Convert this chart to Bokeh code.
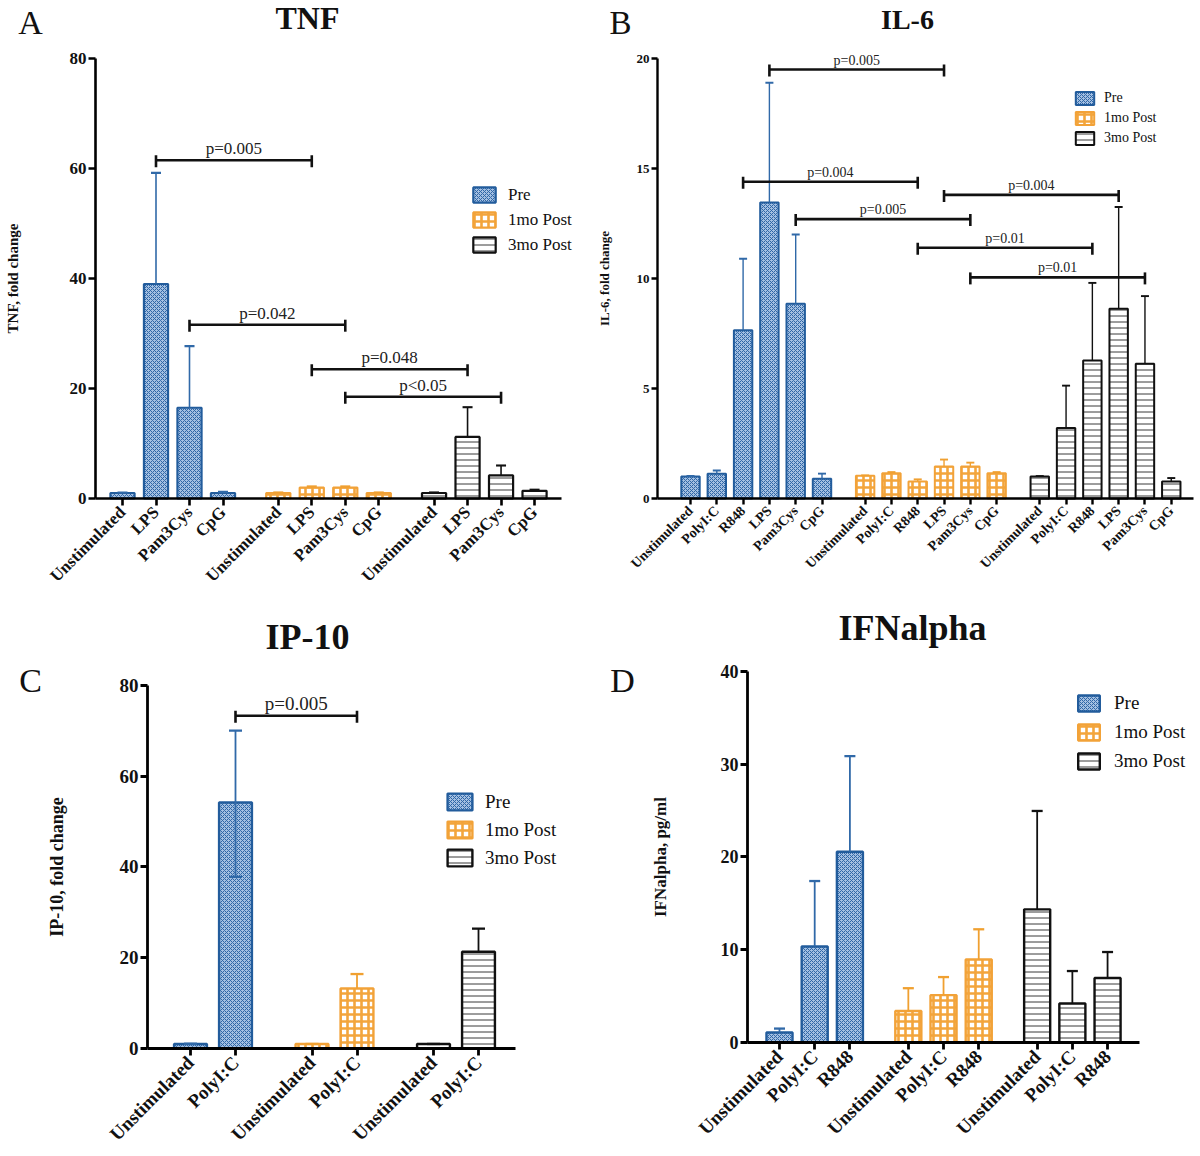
import math
from bokeh.plotting import figure
from bokeh.models import FixedTicker, Label, Range1d
from bokeh.layouts import row, column
from bokeh.embed import file_html
from bokeh.resources import INLINE

SERIF = "Liberation Serif"
series_names = ["Pre", "1mo Post", "3mo Post"]

# ---------------- TNF ----------------
tnf_stimuli = ["Unstimulated", "LPS", "Pam3Cys", "CpG"]
tnf_pre = [1.0, 39.0, 16.5, 1.0]
tnf_pre_err = [1.1, 59.2, 27.7, 1.2]
tnf_1mo = [1.0, 2.0, 2.0, 1.0]
tnf_1mo_err = [1.1, 2.2, 2.2, 1.1]
tnf_3mo = [1.0, 11.2, 4.2, 1.4]
tnf_3mo_err = [1.1, 16.6, 6.0, 1.6]
tnf_brackets = [((0, 1), (1, 1), 61.5, "p=0.005"),
                ((0, 2), (1, 2), 31.6, "p=0.042"),
                ((1, 1), (2, 1), 23.5, "p=0.048"),
                ((1, 2), (2, 2), 18.5, "p<0.05")]

# ---------------- IL-6 ----------------
il6_stimuli = ["Unstimulated", "PolyI:C", "R848", "LPS", "Pam3Cys", "CpG"]
il6_pre = [1.0, 1.12, 7.65, 13.45, 8.85, 0.9]
il6_pre_err = [1.02, 1.27, 10.9, 18.9, 12.0, 1.13]
il6_1mo = [1.03, 1.15, 0.77, 1.45, 1.45, 1.15]
il6_1mo_err = [1.05, 1.2, 0.87, 1.77, 1.63, 1.2]
il6_3mo = [1.0, 3.2, 6.27, 8.62, 6.13, 0.77]
il6_3mo_err = [1.02, 5.13, 9.8, 13.25, 9.2, 0.93]
il6_brackets = [((0, 3), (1, 3), 19.5, "p=0.005"),
                ((0, 2), (1, 2), 14.4, "p=0.004"),
                ((1, 3), (2, 3), 13.8, "p=0.004"),
                ((0, 4), (1, 4), 12.7, "p=0.005"),
                ((1, 2), (2, 2), 11.4, "p=0.01"),
                ((1, 4), (2, 4), 10.05, "p=0.01")]

# ---------------- IP-10 ----------------
ip10_stimuli = ["Unstimulated", "PolyI:C"]
ip10_pre = [1.0, 54.2]
ip10_pre_err = [1.0, 70.0]
ip10_pre_err_low = [1.0, 37.8]
ip10_1mo = [1.0, 13.2]
ip10_1mo_err = [1.0, 16.4]
ip10_3mo = [1.0, 21.3]
ip10_3mo_err = [1.0, 26.4]
ip10_brackets = [((0, 1), (1, 1), 73.3, "p=0.005")]

# ---------------- IFNalpha ----------------
ifn_stimuli = ["Unstimulated", "PolyI:C", "R848"]
ifn_pre = [1.08, 10.35, 20.55]
ifn_pre_err = [1.5, 17.4, 30.85]
ifn_1mo = [3.4, 5.1, 8.95]
ifn_1mo_err = [5.85, 7.05, 12.2]
ifn_3mo = [14.35, 4.2, 6.95]
ifn_3mo_err = [24.95, 7.7, 9.75]

STYLE = {
    "Pre": dict(fill_color="#a4c0e2", hatch_pattern="diagonal_cross", hatch_color="#2f66a6",
                hatch_scale=4, hatch_weight=1, line_color="#225c9c"),
    "1mo Post": dict(fill_color="white", hatch_pattern="cross", hatch_color="#f3a53c",
                     hatch_scale=7, hatch_weight=2.6, line_color="#f2a238"),
    "3mo Post": dict(fill_color="white", hatch_pattern="horizontal_line", hatch_color="#3a3a3a",
                     hatch_scale=6, hatch_weight=1, line_color="#111111"),
}
ERR_COLOR = {"Pre": "#3069a8", "1mo Post": "#f0a030", "3mo Post": "#111111"}


def build(cfg, stimuli, groups, errs, brackets, lows=None):
    fx, fy, w, h = cfg["box"]
    x0, pxu, y0, pyu = cfg["map"]

    def dx(px):
        return (px - x0) / pxu

    def dy(py):
        return (y0 - py) / pyu

    p = figure(width=w, height=h, x_range=Range1d(dx(fx), dx(fx + w)),
               y_range=Range1d(dy(fy + h), dy(fy)), output_backend="svg",
               toolbar_location=None, min_border=0)
    p.title.visible = False
    p.outline_line_color = None
    p.xgrid.visible = False
    p.ygrid.visible = False
    p.background_fill_color = "white"
    p.border_fill_color = "white"

    step = cfg["step"]
    n = len(stimuli)
    xs_all, lab_all = [], []
    for g, name in enumerate(series_names):
        xs = [round(g * step + i, 3) for i in range(n)]
        xs_all += xs
        lab_all += stimuli
        p.vbar(x=xs, top=groups[g], width=cfg["bw"], bottom=0, line_width=cfg["blw"],
               legend_label=name, **STYLE[name])
    for g, name in enumerate(series_names):
        xs = [round(g * step + i, 3) for i in range(n)]
        lo = groups[g] if (lows is None or lows[g] is None) else lows[g]
        p.segment(x0=xs, y0=lo, x1=xs, y1=errs[g], line_color=ERR_COLOR[name],
                  line_width=cfg["elw"])
        p.scatter(x=xs, y=errs[g], marker="dash", size=cfg["cap"], line_color=ERR_COLOR[name],
                  line_width=cfg["elw"] + 0.5)
        if lows is not None and lows[g] is not None:
            p.scatter(x=xs, y=lows[g], marker="dash", size=cfg["cap"],
                      line_color=ERR_COLOR[name], line_width=cfg["elw"] + 0.5)

    # significance brackets
    for (a, b, yv, txt) in brackets:
        xa = round(a[0] * step + a[1], 3)
        xb = round(b[0] * step + b[1], 3)
        p.segment(x0=[xa], y0=[yv], x1=[xb], y1=[yv], line_color="#111111", line_width=2.6)
        p.segment(x0=[xa, xb], y0=[yv - 7 / pyu] * 2, x1=[xa, xb], y1=[yv + 5 / pyu] * 2,
                  line_color="#111111", line_width=2.6)
        p.add_layout(Label(x=(xa + xb) / 2, y=yv, text=txt, text_align="center",
                           text_baseline="bottom", y_offset=2, text_font=SERIF,
                           text_font_size=cfg["pfs"], text_color="#222222"))

    # axes (fixed at the data origin, limited by bounds)
    for ax in (p.xaxis[0], p.yaxis[0]):
        ax.axis_line_width = cfg["alw"]
        ax.axis_line_color = "black"
        ax.major_tick_line_width = cfg["alw"]
        ax.major_tick_line_color = "black"
        ax.major_tick_in = 0
        ax.major_tick_out = cfg["tick"]
        ax.minor_tick_line_color = None
        ax.major_label_text_font = SERIF
        ax.major_label_text_font_style = "bold"
        ax.major_label_text_color = "#111111"
    yt = cfg["yticks"]
    p.yaxis.ticker = FixedTicker(ticks=yt)
    p.yaxis.bounds = (yt[0], yt[-1])
    p.yaxis.fixed_location = dx(cfg["axis_x"][0])
    p.yaxis.major_label_text_font_size = cfg["yfs"]
    p.yaxis.major_label_standoff = 2
    p.yaxis.axis_label = cfg["ylabel"]
    p.yaxis.axis_label_text_font = SERIF
    p.yaxis.axis_label_text_font_style = "bold"
    p.yaxis.axis_label_text_font_size = cfg["ylfs"]
    p.yaxis.axis_label_standoff = cfg["yls"]
    p.yaxis.axis_label_text_color = "#111111"

    p.xaxis.ticker = FixedTicker(ticks=xs_all)
    p.xaxis.major_label_overrides = {x: l for x, l in zip(xs_all, lab_all)}
    p.xaxis.bounds = (dx(cfg["axis_x"][0]), dx(cfg["axis_x"][1]))
    p.xaxis.fixed_location = 0
    p.xaxis.major_label_orientation = math.pi / 4
    p.xaxis.major_label_text_font_size = cfg["xfs"]
    p.xaxis.major_label_standoff = 4

    # title and panel letter
    tx, ty = cfg["title_px"]
    p.add_layout(Label(x=dx(tx), y=dy(ty), text=cfg["title"], text_align="center",
                       text_baseline="middle", text_font=SERIF, text_font_style="bold",
                       text_font_size=cfg["tfs"], text_color="#111111"))
    lx, ly = cfg["letter_px"]
    p.add_layout(Label(x=dx(lx), y=dy(ly), text=cfg["letter"], text_align="center",
                       text_baseline="middle", text_font=SERIF,
                       text_font_size=cfg["lfs"], text_color="#111111"))

    # legend
    gl, gt = cfg["leg_px"]
    gw, gh = cfg["leg_g"]
    sp = cfg["leg_sp"]
    bottom_px = gt + 3 * gh + 2 * sp
    lg = p.legend[0]
    lg.location = (gl - fx, fy + h - bottom_px)
    lg.margin = 0
    lg.padding = 0
    lg.border_line_color = None
    lg.background_fill_alpha = 0
    lg.glyph_width = gw
    lg.glyph_height = gh
    lg.label_height = gh
    lg.spacing = sp
    lg.label_standoff = cfg["leg_so"]
    lg.label_text_font = SERIF
    lg.label_text_font_size = cfg["leg_fs"]
    lg.label_text_color = "#111111"
    lg.label_text_baseline = "middle"
    return p


cfg_a = dict(box=(0, 0, 593, 590), map=(122, 33.5, 498, 5.5), axis_x=(95, 561), step=4.65,
             bw=0.72, blw=2.2, elw=1.6, cap=10, pfs="17px", alw=2.6, tick=7,
             yticks=[0, 20, 40, 60, 80], yfs="17px", ylabel="TNF, fold change", ylfs="15px",
             yls=46, xfs="17px", title="TNF", title_px=(307, 17), tfs="32px",
             letter="A", letter_px=(30, 22), lfs="34px", leg_px=(470, 187.5),
             leg_g=(28, 19), leg_sp=5, leg_so=10, leg_fs="17px")
cfg_b = dict(box=(593, 0, 603, 590), map=(690, 26.3, 498, 22.0), axis_x=(657, 1193), step=6.64,
             bw=0.7, blw=2.0, elw=1.4, cap=8, pfs="14px", alw=2.4, tick=6,
             yticks=[0, 5, 10, 15, 20], yfs="13px", ylabel="IL-6, fold change", ylfs="13px",
             yls=22, xfs="14px", title="IL-6", title_px=(907, 19), tfs="28px",
             letter="B", letter_px=(620, 22), lfs="33px", leg_px=(1073, 90),
             leg_g=(23, 16), leg_sp=4, leg_so=8, leg_fs="14px")
cfg_c = dict(box=(0, 590, 593, 558), map=(190, 45.0, 1048, 4.54), axis_x=(147, 515), step=2.7,
             bw=0.73, blw=2.4, elw=1.8, cap=13, pfs="19px", alw=2.8, tick=7,
             yticks=[0, 20, 40, 60, 80], yfs="19px", ylabel="IP-10, fold change", ylfs="18px",
             yls=50, xfs="19px", title="IP-10", title_px=(307, 636), tfs="36px",
             letter="C", letter_px=(30, 680), lfs="34px", leg_px=(444, 793.5),
             leg_g=(31, 21), leg_sp=6, leg_so=10, leg_fs="19px")
cfg_d = dict(box=(593, 590, 603, 558), map=(779, 35.2, 1042, 9.28), axis_x=(747, 1139),
             step=3.66, bw=0.74, blw=2.4, elw=1.8, cap=11, pfs="17px", alw=2.8, tick=7,
             yticks=[0, 10, 20, 30, 40], yfs="18px", ylabel="IFNalpha, pg/ml", ylfs="17px",
             yls=48, xfs="19px", title="IFNalpha", title_px=(912, 627), tfs="36px",
             letter="D", letter_px=(622, 680), lfs="34px", leg_px=(1075, 697.5),
             leg_g=(27, 20), leg_sp=7, leg_so=12, leg_fs="19px")

pa = build(cfg_a, tnf_stimuli, [tnf_pre, tnf_1mo, tnf_3mo],
           [tnf_pre_err, tnf_1mo_err, tnf_3mo_err], tnf_brackets)
pb = build(cfg_b, il6_stimuli, [il6_pre, il6_1mo, il6_3mo],
           [il6_pre_err, il6_1mo_err, il6_3mo_err], il6_brackets)
pc = build(cfg_c, ip10_stimuli, [ip10_pre, ip10_1mo, ip10_3mo],
           [ip10_pre_err, ip10_1mo_err, ip10_3mo_err], ip10_brackets,
           lows=[ip10_pre_err_low, None, None])
pd_ = build(cfg_d, ifn_stimuli, [ifn_pre, ifn_1mo, ifn_3mo],
            [ifn_pre_err, ifn_1mo_err, ifn_3mo_err], [])

layout = column(row(pa, pb), row(pc, pd_))
open("out.html", "w").write(file_html(layout, INLINE))
